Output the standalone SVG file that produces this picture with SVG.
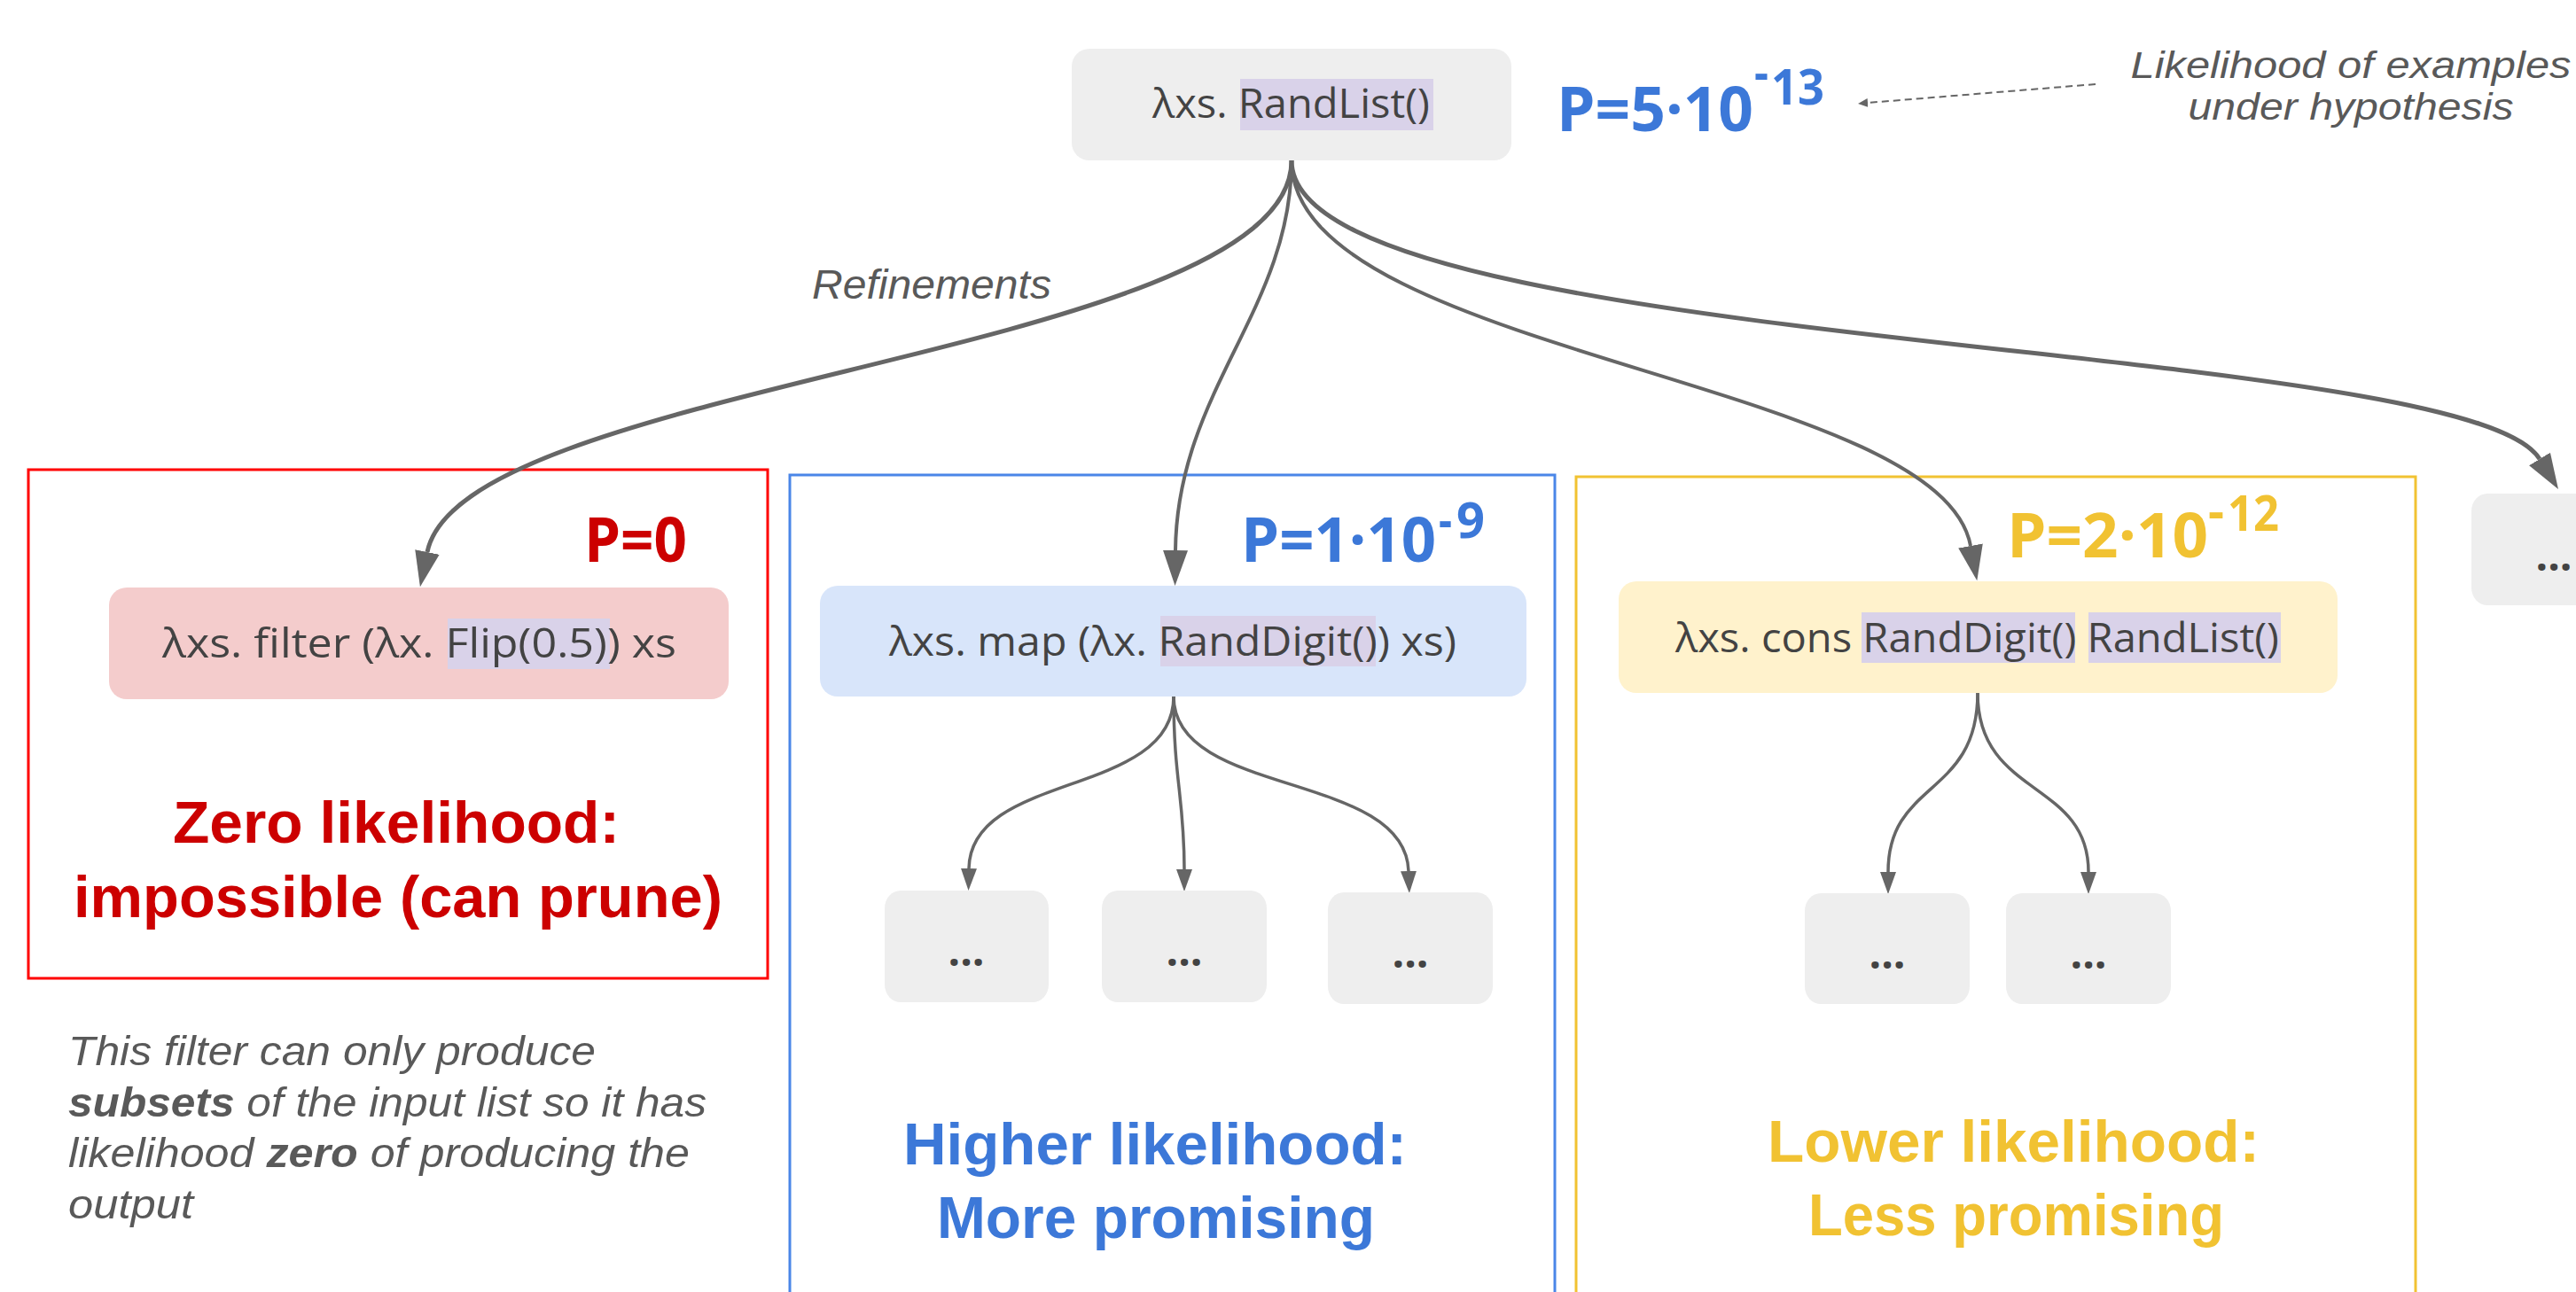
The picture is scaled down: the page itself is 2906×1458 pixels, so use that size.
<svg xmlns="http://www.w3.org/2000/svg" width="2906" height="1458" viewBox="0 0 2906 1458">
<style>
  text{font-family:"Open Sans","Noto Sans","DejaVu Sans",sans-serif}
  .code{font-size:46px;fill:#434343}
  .hl{fill:#d9d2e9}
  .gray{fill:#eeeeee}
  .big{font-family:"Liberation Sans",Arial,sans-serif;font-size:67px;font-weight:bold}
  .prob{font-size:70px;font-weight:bold}
  .sup{font-size:55px}
  .note{font-family:"Liberation Sans",Arial,sans-serif;font-size:47px;font-style:italic;fill:#595959}
  .ann{font-size:42px}
  .dots{font-size:48px;fill:#434343;text-anchor:middle;font-weight:bold}
  .edge{fill:none;stroke:#666666;stroke-width:5}
  .edge2{fill:none;stroke:#666666;stroke-width:4}
  .edge3{fill:none;stroke:#666666;stroke-width:3.5}
  .frame{fill:none;stroke-width:3}
</style>
<defs>
  <marker id="ah" markerUnits="userSpaceOnUse" markerWidth="42" markerHeight="30" refX="0" refY="14" orient="auto"><path d="M0,0 L40,14 L0,28 z" fill="#666666"/></marker>
  <marker id="ahs" markerUnits="userSpaceOnUse" markerWidth="26" markerHeight="20" refX="0" refY="9" orient="auto"><path d="M0,0 L25,9 L0,18 z" fill="#666666"/></marker>
  <marker id="ahd" markerUnits="userSpaceOnUse" markerWidth="12" markerHeight="10" refX="0" refY="5" orient="auto"><path d="M0,0 L11,5 L0,10 z" fill="#666666"/></marker>
</defs>
<rect width="2906" height="1458" fill="#ffffff"/>

<g id="frames">
  <rect id="frame-zero" class="frame" stroke="#ff0000" x="32" y="530" width="834" height="574"/>
  <rect id="frame-higher" class="frame" stroke="#4a86e8" x="891" y="536" width="863" height="940"/>
  <rect id="frame-lower" class="frame" stroke="#f1c232" x="1778" y="538" width="947" height="940"/>
</g>

<g id="connectors">
  <path class="edge" marker-end="url(#ah)" d="M1457,181 C1457,400 522,429 482,623"/>
  <path class="edge2" marker-end="url(#ah)" d="M1457,181 C1457,350 1328,440 1326,621"/>
  <path class="edge2" marker-end="url(#ah)" d="M1457,181 C1457,400 2188,427 2223,616"/>
  <path class="edge" marker-end="url(#ah)" d="M1457,181 C1457,400 2780,380 2865,518"/>
  <path class="edge3" marker-end="url(#ahs)" d="M1324,786 C1324,900 1095,870 1093,980"/>
  <path class="edge3" marker-end="url(#ahs)" d="M1324,786 C1324,880 1336,900 1336,981"/>
  <path class="edge3" marker-end="url(#ahs)" d="M1324,786 C1324,900 1585,870 1589,983"/>
  <path class="edge3" marker-end="url(#ahs)" d="M2231,782 C2231,900 2130,880 2130,984"/>
  <path class="edge3" marker-end="url(#ahs)" d="M2231,782 C2231,900 2356,880 2356,984"/>
  <path fill="none" stroke="#666666" stroke-width="2" stroke-dasharray="8 5" marker-end="url(#ahd)" d="M2364,95 L2107,116"/>
</g>

<g id="root">
  <rect class="gray" x="1209" y="55" width="496" height="126" rx="20" ry="20"/>
  <rect class="hl" x="1399" y="89" width="218" height="58"/>
  <text class="code" x="1300" y="133" textLength="313" lengthAdjust="spacingAndGlyphs">λxs. RandList()</text>
</g>
<text id="p-root" class="prob" fill="#3c78d8"><tspan x="1756" y="148" textLength="222" lengthAdjust="spacingAndGlyphs">P=5·10</tspan><tspan class="sup" x="1979" y="102" textLength="16" lengthAdjust="spacingAndGlyphs">-</tspan><tspan class="sup" x="1998" y="118" textLength="60" lengthAdjust="spacingAndGlyphs">13</tspan></text>

<g id="annotation">
  <text class="note ann" x="2652" y="88" text-anchor="middle" textLength="497" lengthAdjust="spacingAndGlyphs">Likelihood of examples</text>
  <text class="note ann" x="2652" y="135" text-anchor="middle" textLength="367" lengthAdjust="spacingAndGlyphs">under hypothesis</text>
</g>
<text id="refinements" class="note" x="916" y="337" textLength="270" lengthAdjust="spacingAndGlyphs">Refinements</text>

<g id="node-filter">
  <rect fill="#f4cccc" x="123" y="663" width="699" height="126" rx="20" ry="20"/>
  <rect class="hl" x="505" y="698" width="183" height="57"/>
  <text class="code" x="183" y="742" textLength="580" lengthAdjust="spacingAndGlyphs">λxs. filter (λx. Flip(0.5)) xs</text>
</g>
<text id="p-filter" class="prob" fill="#cc0000" x="659" y="634" textLength="116" lengthAdjust="spacingAndGlyphs">P=0</text>
<g id="label-zero" fill="#cc0000">
  <text class="big" x="195" y="951" textLength="504" lengthAdjust="spacingAndGlyphs">Zero likelihood:</text>
  <text class="big" x="83" y="1035" textLength="732" lengthAdjust="spacingAndGlyphs">impossible (can prune)</text>
</g>
<g id="note-filter">
  <text class="note" x="77" y="1202" textLength="595" lengthAdjust="spacingAndGlyphs">This filter can only produce</text>
  <text class="note" x="77" y="1260" textLength="720" lengthAdjust="spacingAndGlyphs"><tspan font-weight="bold">subsets</tspan> of the input list so it has</text>
  <text class="note" x="77" y="1317" textLength="701" lengthAdjust="spacingAndGlyphs">likelihood <tspan font-weight="bold">zero</tspan> of producing the</text>
  <text class="note" x="77" y="1375" textLength="141" lengthAdjust="spacingAndGlyphs">output</text>
</g>

<g id="node-map">
  <rect fill="#d8e5fa" x="925" y="661" width="797" height="125" rx="20" ry="20"/>
  <rect class="hl" x="1309" y="695" width="243" height="57"/>
  <text class="code" x="1003" y="740" textLength="640" lengthAdjust="spacingAndGlyphs">λxs. map (λx. RandDigit()) xs)</text>
</g>
<text id="p-map" class="prob" fill="#3c78d8"><tspan x="1400" y="634" textLength="220" lengthAdjust="spacingAndGlyphs">P=1·10</tspan><tspan class="sup" x="1623" y="607" textLength="15" lengthAdjust="spacingAndGlyphs">-</tspan><tspan class="sup" x="1643" y="607" textLength="32" lengthAdjust="spacingAndGlyphs">9</tspan></text>
<g id="map-child-1"><rect class="gray" x="998" y="1005" width="185" height="126" rx="18" ry="20"/><text class="dots" x="1090" y="1090">...</text></g>
<g id="map-child-2"><rect class="gray" x="1243" y="1005" width="186" height="126" rx="18" ry="20"/><text class="dots" x="1336" y="1090">...</text></g>
<g id="map-child-3"><rect class="gray" x="1498" y="1007" width="186" height="126" rx="18" ry="20"/><text class="dots" x="1591" y="1092">...</text></g>
<g id="label-higher" fill="#3c78d8">
  <text class="big" x="1019" y="1314" textLength="568" lengthAdjust="spacingAndGlyphs">Higher likelihood:</text>
  <text class="big" x="1057" y="1397" textLength="494" lengthAdjust="spacingAndGlyphs">More promising</text>
</g>

<g id="node-cons">
  <rect fill="#fff2cc" x="1826" y="656" width="811" height="126" rx="20" ry="20"/>
  <rect class="hl" x="2100" y="691" width="241" height="57"/>
  <rect class="hl" x="2356" y="691" width="217" height="57"/>
  <text class="code" x="1890" y="736" textLength="681" lengthAdjust="spacingAndGlyphs">λxs. cons RandDigit() RandList()</text>
</g>
<text id="p-cons" class="prob" fill="#f1c232"><tspan x="2264" y="629" textLength="227" lengthAdjust="spacingAndGlyphs">P=2·10</tspan><tspan class="sup" x="2491" y="597" textLength="18" lengthAdjust="spacingAndGlyphs">-</tspan><tspan class="sup" x="2513" y="599" textLength="58" lengthAdjust="spacingAndGlyphs">12</tspan></text>
<g id="cons-child-1"><rect class="gray" x="2036" y="1008" width="186" height="125" rx="18" ry="20"/><text class="dots" x="2129" y="1093">...</text></g>
<g id="cons-child-2"><rect class="gray" x="2263" y="1008" width="186" height="125" rx="18" ry="20"/><text class="dots" x="2356" y="1093">...</text></g>
<g id="label-lower" fill="#f1c232">
  <text class="big" x="1994" y="1311" textLength="555" lengthAdjust="spacingAndGlyphs">Lower likelihood:</text>
  <text class="big" x="2040" y="1394" textLength="469" lengthAdjust="spacingAndGlyphs">Less promising</text>
</g>

<g id="node-more"><rect class="gray" x="2788" y="557" width="170" height="126" rx="18" ry="20"/><text class="dots" x="2881" y="644">...</text></g>
</svg>
